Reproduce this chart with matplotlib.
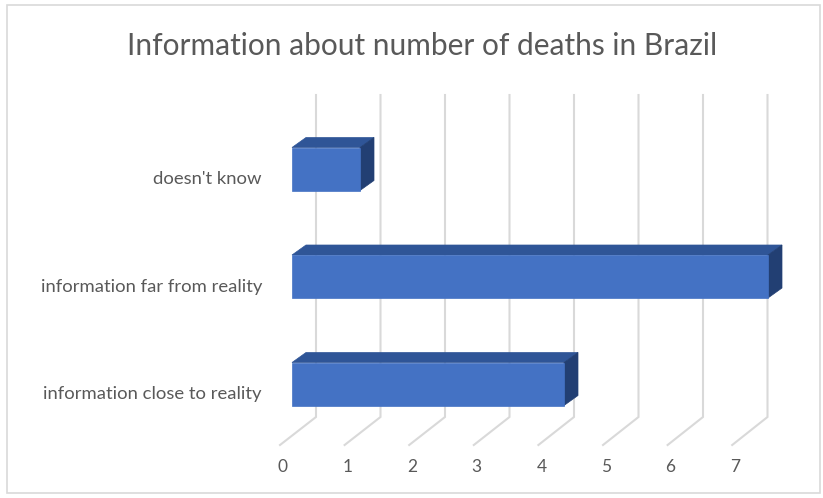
import matplotlib.pyplot as plt
from matplotlib.patches import Polygon, Rectangle

# Survey answers, bottom to top as they appear on the chart
categories = ["information close to reality", "information far from reality", "doesn't know"]
values = [4, 7, 1]
ticks = [0, 1, 2, 3, 4, 5, 6, 7]
title = "Information about number of deaths in Brazil"

plt.rcParams['font.family'] = ['Lato', 'DejaVu Sans']
text_color = "#595959"
grid_color = "#d9d9d9"
front_color = "#4472c4"
top_color = "#2f5597"
side_color = "#223f73"

# oblique projection: everything is laid out in pixel space of an 823x498 canvas
grid_back_x0, grid_back_step = 316, 64.5
grid_front_x0, grid_front_step = 280, 64.6
grid_top, grid_bottom, floor_y = 95, 417, 445
bar_x0, bar_step = 292, 68
bar_dx, bar_dy = 14, -10
bar_h = 43
row_y0, row_step = 384, 107.5

fig = plt.figure(figsize=(8.23, 4.98), dpi=100)
ax = fig.add_axes([0, 0, 1, 1])
ax.set_xlim(0, 823)
ax.set_ylim(498, 0)
ax.axis('off')

# chart border
ax.add_patch(Rectangle((7, 5), 813, 488, fill=False, edgecolor="#d9d9d9", lw=1.2))

ax.text(422, 46, title, ha='center', va='center', fontsize=21.5, color=text_color)

# back wall gridlines and their floor diagonals
for t in ticks:
    xb = grid_back_x0 + grid_back_step * t
    xf = grid_front_x0 + grid_front_step * t
    ax.plot([xb, xb, xf], [grid_top, grid_bottom, floor_y], color=grid_color, lw=1.5,
            solid_joinstyle='miter', zorder=1)
    ax.text(xf + 3, 467, str(t), ha='center', va='center', fontsize=12.5, color=text_color)

# 3D bars: front face, top face, right side
for i, (cat, val) in enumerate(zip(categories, values)):
    yc = row_y0 - row_step * i
    y_top, y_bot = yc - bar_h / 2, yc + bar_h / 2
    xl = bar_x0
    xr = bar_x0 + bar_step * val
    front = [(xl, y_top), (xr, y_top), (xr, y_bot), (xl, y_bot)]
    top = [(xl, y_top), (xl + bar_dx, y_top + bar_dy), (xr + bar_dx, y_top + bar_dy), (xr, y_top)]
    side = [(xr, y_top), (xr + bar_dx, y_top + bar_dy), (xr + bar_dx, y_bot + bar_dy), (xr, y_bot)]
    ax.add_patch(Polygon(top, closed=True, facecolor=top_color, edgecolor=top_color, lw=0.5, zorder=3))
    ax.add_patch(Polygon(side, closed=True, facecolor=side_color, edgecolor=side_color, lw=0.5, zorder=3))
    ax.add_patch(Polygon(front, closed=True, facecolor=front_color, edgecolor=front_color, lw=0.5, zorder=4))
    ax.text(262, yc + 10, cat, ha='right', va='center', fontsize=13.3, color=text_color)

fig.savefig("out.png", dpi=100)
